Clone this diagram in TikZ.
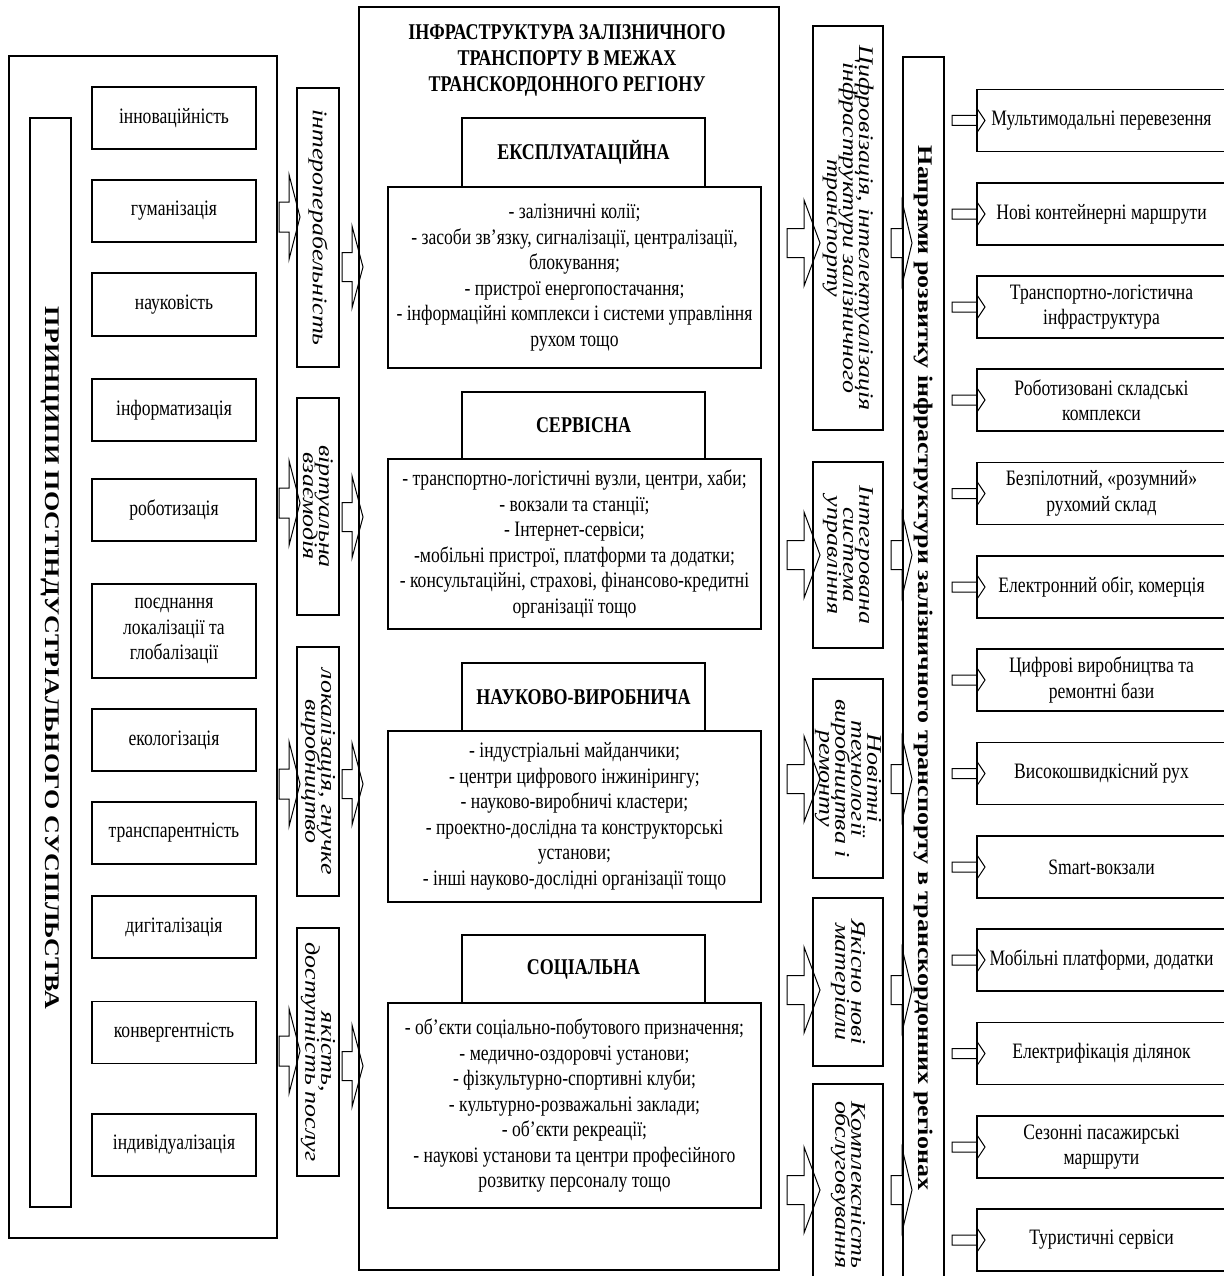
\documentclass[tikz,border=0pt]{standalone}
\usepackage{fontspec}
\usepackage{graphicx}
\setmainfont{Liberation Serif}[FakeStretch=0.8]
\newfontfamily\vfont{Liberation Serif}
\usetikzlibrary{calc}
\newcommand\vstack[2]{\scalebox{1}[0.8]{\vbox{#1\lineskiplimit=-100pt\lineskip=0pt\halign{\hfil##\hfil\cr#2\crcr}}}}
\newcommand\fatarrow[8]{%
  \draw[fat] let \p1=(#1.east), \p2=(#2.west) in
    (\x1+#4pt,-#3pt+#7pt) -- (\x2+#5pt-#6pt,-#3pt+#7pt) -- (\x2+#5pt-#6pt,-#3pt+#8pt)
    -- (\x2+#5pt,-#3pt) -- (\x2+#5pt-#6pt,-#3pt-#8pt) -- (\x2+#5pt-#6pt,-#3pt-#7pt)
    -- (\x1+#4pt,-#3pt-#7pt) -- cycle;}
\tikzset{
 bxbase/.style={draw, line width=1.3pt, fill=white, inner sep=0pt, outer sep=0pt, align=center},
 txt/.style={font=\fontsize{22}{25.5}\selectfont},
 sbox/.style={bxbase, txt, minimum width=164pt},
 vbx/.style={bxbase, minimum width=42pt},
 hdr/.style={bxbase, minimum width=243pt, font=\bfseries\fontsize{22.5}{27}\selectfont},
 lst/.style={bxbase, txt, minimum width=373pt},
 cbx/.style={bxbase, minimum width=70pt},
 rbx/.style={bxbase, txt, minimum width=249pt, minimum height=62pt},
 vtext/.style={rotate=-90, inner sep=0pt},
 fat/.style={draw, line width=1pt, line join=miter},
}
\def\itv{\vfont\itshape\fontsize{26}{20}\selectfont}
\def\bfv{\vfont\bfseries\fontsize{26}{28}\selectfont}
\begin{document}
\begin{tikzpicture}[x=1pt,y=1pt]
\useasboundingbox (0,0) rectangle (1223,-1276);
% ---------- left column
\node[bxbase, minimum width=268pt, minimum height=1182pt] (L) at (143,-647) {};
\node[bxbase, minimum width=41pt, minimum height=1089pt] (T) at (50.5,-662.5) {};
\node[sbox, minimum height=62pt] (a1) at (174,-118) {інноваційність};
\node[sbox, minimum height=62pt] (a2) at (174,-211) {гуманізація};
\node[sbox, minimum height=63pt] (a3) at (174,-304.5) {науковість};
\node[sbox, minimum height=62pt] (a4) at (174,-410) {інформатизація};
\node[sbox, minimum height=62pt] (a5) at (174,-510) {роботизація};
\node[sbox, minimum height=94pt] (a6) at (174,-631) {поєднання\\локалізації та\\глобалізації};
\node[sbox, minimum height=62pt] (a7) at (174,-740) {екологізація};
\node[sbox, minimum height=62pt] (a8) at (174,-833) {транспарентність};
\node[sbox, minimum height=62pt] (a9) at (174,-927) {дигіталізація};
\node[sbox, minimum height=62pt] (a10) at (174,-1032.5) {конвергентність};
\node[sbox, minimum height=62pt] (a11) at (174,-1145) {індивідуалізація};
% ---------- second column
\node[vbx, minimum height=279pt] (b1) at (318,-227.5) {};
\node[vbx, minimum height=217pt] (b2) at (318,-506.5) {};
\node[vbx, minimum height=249pt] (b3) at (318,-771.5) {};
\node[vbx, minimum height=248pt] (b4) at (318,-1052) {};
% ---------- centre
\node[bxbase, line width=2pt, minimum width=420pt, minimum height=1263pt] (C) at (569,-638.5) {};
\node[align=center, inner sep=0pt, font=\bfseries\fontsize{22.5}{26}\selectfont] (Ctitle) at (567,-60)
 {ІНФРАСТРУКТУРА ЗАЛІЗНИЧНОГО\\ТРАНСПОРТУ В МЕЖАХ\\ТРАНСКОРДОННОГО РЕГІОНУ};
\node[hdr, minimum height=69pt] (h1) at (583.5,-152.5) {ЕКСПЛУАТАЦІЙНА};
\node[lst, minimum height=181pt] (l1) at (574.5,-277.5) {- залізничні колії;\\- засоби зв’язку, сигналізації, централізації,\\блокування;\\- пристрої енергопостачання;\\- інформаційні комплекси і системи управління\\рухом тощо};
\node[hdr, minimum height=67pt] (h2) at (583.5,-425.5) {СЕРВІСНА};
\node[lst, minimum height=170pt] (l2) at (574.5,-544) {- транспортно-логістичні вузли, центри, хаби;\\- вокзали та станції;\\- Інтернет-сервіси;\\-мобільні пристрої, платформи та додатки;\\- консультаційні, страхові, фінансово-кредитні\\організації тощо};
\node[hdr, minimum height=68pt] (h3) at (583.5,-697) {НАУКОВО-ВИРОБНИЧА};
\node[lst, minimum height=171pt] (l3) at (574.5,-816.5) {- індустріальні майданчики;\\- центри цифрового інжинірингу;\\- науково-виробничі кластери;\\- проектно-дослідна та конструкторські\\установи;\\- інші науково-дослідні організації тощо};
\node[hdr, minimum height=68pt] (h4) at (583.5,-969) {СОЦІАЛЬНА};
\node[lst, minimum height=205pt] (l4) at (574.5,-1105.5) {- об’єкти соціально-побутового призначення;\\- медично-оздоровчі установи;\\- фізкультурно-спортивні клуби;\\- культурно-розважальні заклади;\\- об’єкти рекреації;\\- наукові установи та центри професійного\\розвитку персоналу тощо};
% ---------- fourth column
\node[cbx, minimum height=404pt] (d1) at (848,-228) {};
\node[cbx, minimum height=186pt] (d2) at (848,-555) {};
\node[cbx, minimum height=199pt] (d3) at (848,-778.5) {};
\node[cbx, minimum height=168pt] (d4) at (848,-982) {};
\node[cbx, minimum height=202pt] (d5) at (848,-1185) {};
% ---------- fifth column
\node[bxbase, minimum width=41pt, minimum height=1222pt] (E) at (923.5,-668) {};
% ---------- right boxes
\node[rbx] (R1) at (1101.5,-120.5) {Мультимодальні перевезення};
\node[rbx] (R2) at (1101.5,-214) {Нові контейнерні маршрути};
\node[rbx] (R3) at (1101.5,-307) {Транспортно-логістична\\інфраструктура};
\node[rbx] (R4) at (1101.5,-400) {Роботизовані складські\\комплекси};
\node[rbx] (R5) at (1101.5,-493.5) {Безпілотний, «розумний»\\рухомий склад};
\node[rbx] (R6) at (1101.5,-587) {Електронний обіг, комерція};
\node[rbx] (R7) at (1101.5,-680) {Цифрові виробництва та\\ремонтні бази};
\node[rbx] (R8) at (1101.5,-773.5) {Високошвидкісний рух};
\node[rbx] (R9) at (1101.5,-867) {Smart-вокзали};
\node[rbx] (R10) at (1101.5,-960) {Мобільні платформи, додатки};
\node[rbx] (R11) at (1101.5,-1053.5) {Електрифікація ділянок};
\node[rbx] (R12) at (1101.5,-1147) {Сезонні пасажирські\\маршрути};
\node[rbx] (R13) at (1101.5,-1240) {Туристичні сервіси};
% ---------- vertical texts
\node[vtext] (Tt) at (50.5,-658) {\vstack{\bfv}{ПРИНЦИПИ ПОСТІНДУСТРІАЛЬНОГО СУСПІЛЬСТВА}};
\node[vtext] (b1t) at (b1) {\vstack{\itv}{інтероперабельність}};
\node[vtext] (b2t) at (b2) {\vstack{\itv}{віртуальна\cr взаємодія}};
\node[vtext] (b3t) at (b3) {\vstack{\itv}{локалізація, гнучке\cr виробництво}};
\node[vtext] (b4t) at (b4) {\vstack{\itv}{якість,\cr доступність послуг}};
\node[vtext] (d1t) at (d1) {\vstack{\itv}{Цифровізація, інтелектуалізація\cr інфраструктури залізничного\cr транспорту}};
\node[vtext] (d2t) at (d2) {\vstack{\itv}{Інтегрована\cr система\cr управління}};
\node[vtext] (d3t) at (d3) {\vstack{\itv}{Новітні\cr технології\cr виробництва і\cr ремонту}};
\node[vtext] (d4t) at (d4) {\vstack{\itv}{Якісно нові\cr матеріали}};
\node[vtext] (d5t) at (d5) {\vstack{\itv}{Комплексність\cr обслуговування}};
\node[vtext] (Et) at (E) {\vstack{\bfv}{Напрями розвитку інфраструктури залізничного транспорту в транскордонних регіонах}};
% ---------- block arrows
\fatarrow{L}{b1}{217}{2}{3}{11}{15}{42.5}
\fatarrow{L}{b2}{503}{2}{3}{11}{15}{42.5}
\fatarrow{L}{b3}{784}{2}{3}{11}{15}{42.5}
\fatarrow{L}{b4}{1051}{2}{3}{11}{15}{42.5}
\fatarrow{b1}{C}{267}{3}{4}{11}{14.5}{41}
\fatarrow{b2}{C}{517}{3}{4}{11}{14.5}{41}
\fatarrow{b3}{C}{784}{3}{4}{11}{14.5}{41}
\fatarrow{b4}{C}{1066}{3}{4}{11}{14.5}{41}
\fatarrow{C}{d1}{243}{8}{7}{16}{14.5}{43}
\fatarrow{C}{d2}{555}{8}{7}{16}{14.5}{43}
\fatarrow{C}{d3}{779}{8}{7}{16}{14.5}{43}
\fatarrow{C}{d4}{990}{8}{7}{16}{14.5}{43}
\fatarrow{C}{d5}{1190}{8}{7}{16}{14.5}{43}
\fatarrow{d1}{E}{243}{8}{9}{10}{14.5}{42}
\fatarrow{d2}{E}{555}{8}{9}{10}{14.5}{42}
\fatarrow{d3}{E}{779}{8}{9}{10}{14.5}{42}
\fatarrow{d4}{E}{990}{8}{9}{10}{14.5}{42}
\fatarrow{d5}{E}{1190}{8}{9}{10}{14.5}{42}
\fatarrow{E}{R1}{120.5}{8}{8}{8}{5}{12}
\fatarrow{E}{R2}{214}{8}{8}{8}{5}{12}
\fatarrow{E}{R3}{307}{8}{8}{8}{5}{12}
\fatarrow{E}{R4}{400}{8}{8}{8}{5}{12}
\fatarrow{E}{R5}{493.5}{8}{8}{8}{5}{12}
\fatarrow{E}{R6}{587}{8}{8}{8}{5}{12}
\fatarrow{E}{R7}{680}{8}{8}{8}{5}{12}
\fatarrow{E}{R8}{773.5}{8}{8}{8}{5}{12}
\fatarrow{E}{R9}{867}{8}{8}{8}{5}{12}
\fatarrow{E}{R10}{960}{8}{8}{8}{5}{12}
\fatarrow{E}{R11}{1053.5}{8}{8}{8}{5}{12}
\fatarrow{E}{R12}{1147}{8}{8}{8}{5}{12}
\fatarrow{E}{R13}{1240}{8}{8}{8}{5}{12}
\end{tikzpicture}
\end{document}
